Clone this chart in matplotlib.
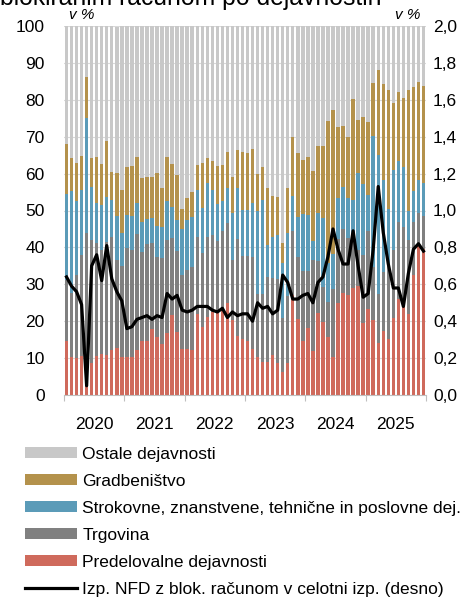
import numpy as np
import matplotlib.pyplot as plt
from matplotlib.patches import Patch
from matplotlib.lines import Line2D
from matplotlib.ticker import FuncFormatter

plt.rcParams['font.family'] = ['Liberation Sans', 'DejaVu Sans']

# monthly data, Jan 2020 - Dec 2025 (shares in %)
predelovalne = [14.5, 10.4, 9.9, 10.6, 10.8, 8.6, 10.6, 11.0, 10.8, 12.2, 12.8, 10.4,
                10.4, 10.4, 12.2, 14.5, 14.7, 17.8, 15.6, 13.8, 16.7, 21.7, 17.2, 12.4,
                12.6, 12.2, 21.9, 18.5, 21.2, 22.6, 22.1, 23.0, 25.0, 20.3, 16.0, 15.1,
                14.7, 12.6, 10.2, 9.0, 9.0, 10.8, 8.8, 6.3, 8.6, 27.1, 20.5, 14.7,
                18.1, 12.0, 22.3, 19.9, 15.8, 10.4, 24.8, 27.7, 27.1, 28.9, 29.5, 19.4,
                23.2, 20.3, 14.2, 17.4, 15.2, 21.0, 25.9, 24.4, 22.0, 32.5, 40.4, 39.7]
trgovina = [16.7, 17.2, 22.6, 27.4, 33.0, 33.4, 30.7, 28.3, 30.7, 30.7, 23.9, 24.6,
            29.4, 28.9, 31.3, 24.2, 26.2, 23.3, 21.7, 23.2, 25.3, 20.8, 21.7, 20.1,
            21.2, 22.4, 20.9, 19.9, 21.5, 20.8, 19.7, 21.4, 21.5, 16.4, 26.3, 22.7,
            23.0, 24.8, 17.3, 18.3, 23.0, 20.8, 22.6, 14.5, 18.1, 17.4, 16.8, 19.0,
            15.6, 24.6, 14.1, 9.5, 9.5, 18.2, 17.6, 17.2, 15.4, 14.5, 9.8, 18.5,
            21.3, 14.5, 13.2, 16.0, 20.1, 18.2, 20.9, 21.0, 20.1, 14.5, 8.9, 8.8]
strokovne = [23.3, 27.8, 20.1, 17.6, 31.2, 14.3, 10.8, 12.2, 12.2, 9.9, 11.7, 9.0,
             9.0, 9.3, 8.4, 8.1, 6.7, 7.0, 8.6, 8.4, 10.7, 8.4, 8.6, 12.4,
             13.6, 13.7, 12.8, 12.2, 14.8, 12.2, 9.9, 8.1, 9.5, 12.6, 13.7, 12.4,
             12.4, 14.5, 22.4, 25.5, 8.6, 11.3, 12.0, 14.9, 17.2, 9.4, 11.0, 15.3,
             15.1, 5.2, 13.0, 18.5, 10.4, 9.6, 11.1, 11.6, 10.8, 9.5, 20.8, 19.2,
             9.7, 35.4, 37.7, 25.0, 15.1, 21.9, 16.7, 16.3, 7.7, 8.4, 8.9, 9.0]
gradbenistvo = [13.6, 8.8, 10.3, 9.2, 11.3, 7.9, 12.5, 11.1, 15.2, 7.7, 11.7, 11.6,
                13.1, 13.5, 12.6, 11.9, 11.6, 11.1, 14.2, 10.7, 11.7, 11.7, 12.2, 5.4,
                6.1, 6.8, 6.8, 12.4, 6.6, 7.9, 10.3, 9.8, 9.8, 9.9, 10.4, 15.6,
                15.6, 14.9, 10.1, 9.0, 15.4, 11.0, 10.2, 5.6, 12.2, 16.1, 17.2, 14.7,
                15.8, 19.0, 18.1, 19.6, 38.6, 39.0, 19.0, 16.4, 16.7, 27.4, 14.3, 18.2,
                19.9, 14.3, 23.0, 25.8, 32.2, 18.1, 18.7, 18.7, 32.8, 28.2, 26.6, 26.2]
ostale = [32.0, 35.9, 37.0, 35.2, 13.7, 35.9, 35.4, 37.4, 31.1, 39.5, 39.7, 44.4,
          38.1, 37.9, 35.4, 41.3, 40.8, 40.8, 39.9, 43.8, 35.6, 37.4, 40.4, 49.7,
          46.4, 44.9, 37.7, 37.0, 35.9, 36.5, 37.9, 37.7, 34.2, 40.7, 33.6, 34.2,
          34.2, 33.2, 39.9, 38.1, 44.0, 46.1, 46.4, 58.7, 44.0, 30.0, 34.5, 36.3,
          35.4, 39.2, 32.5, 32.5, 25.7, 22.8, 27.5, 27.1, 30.0, 19.8, 25.7, 24.6,
          25.9, 15.5, 11.9, 15.7, 17.5, 20.8, 17.8, 19.6, 17.5, 16.4, 15.4, 16.3]
# share of NFC with blocked account in all companies (right axis, %)
blokirani = [0.64, 0.59, 0.56, 0.49, 0.05, 0.70, 0.76, 0.62, 0.81, 0.63, 0.56, 0.51,
             0.36, 0.37, 0.41, 0.42, 0.43, 0.41, 0.43, 0.42, 0.55, 0.52, 0.54, 0.46,
             0.45, 0.46, 0.48, 0.48, 0.48, 0.46, 0.45, 0.47, 0.42, 0.45, 0.43, 0.44,
             0.44, 0.40, 0.50, 0.47, 0.48, 0.44, 0.46, 0.65, 0.61, 0.52, 0.52, 0.54,
             0.55, 0.50, 0.61, 0.64, 0.75, 0.90, 0.79, 0.71, 0.71, 0.89, 0.70, 0.53,
             0.55, 0.79, 1.13, 0.88, 0.71, 0.58, 0.58, 0.48, 0.66, 0.79, 0.82, 0.78]
leta = ['2020', '2021', '2022', '2023', '2024', '2025']

serije = [
    ('Predelovalne dejavnosti', predelovalne, '#cf6a5c'),
    ('Trgovina', trgovina, '#808080'),
    ('Strokovne, znanstvene, tehnične in poslovne dej.', strokovne, '#5b9bb8'),
    ('Gradbeništvo', gradbenistvo, '#b4924c'),
    ('Ostale dejavnosti', ostale, '#c8c8c8'),
]

fig = plt.figure(figsize=(4.71, 5.99), dpi=100)
ax = fig.add_axes([64 / 471, 204 / 599, 362 / 471, 369 / 599])

x = np.arange(len(predelovalne))
spodaj = np.zeros(len(x))
handles = {}
for ime, vals, barva in serije:
    ax.bar(x, vals, bottom=spodaj, width=0.68, color=barva, linewidth=0, zorder=2)
    spodaj += np.array(vals)
    handles[ime] = Patch(facecolor=barva, edgecolor='none')

ax.set_xlim(-0.5, len(x) - 0.5)
ax.set_ylim(0, 100)
ax.set_yticks(range(0, 101, 10))
ax.grid(axis='y', color='#d9d9d9', linewidth=0.8, zorder=0)
ax.set_axisbelow(True)
for s in ['top', 'left', 'right']:
    ax.spines[s].set_visible(False)
ax.spines['bottom'].set_color('#bfbfbf')
ax.tick_params(axis='y', length=0, pad=14, labelsize=12.5)

# year boundaries as ticks, year names in the middle
ax.set_xticks(np.arange(-0.5, len(x), 12))
ax.set_xticklabels([])
ax.set_xticks(np.arange(5.5, len(x), 12), minor=True)
ax.set_xticklabels(leta, minor=True)
ax.tick_params(axis='x', which='major', length=4, color='#bfbfbf')
ax.tick_params(axis='x', which='minor', length=0, pad=16, labelsize=12.5)

ax2 = ax.twinx()
ax2.plot(x, blokirani, color='black', linewidth=2.3, zorder=5)
ax2.set_ylim(0, 2.0)
ax2.set_yticks(np.arange(0, 2.01, 0.2))
ax2.yaxis.set_major_formatter(FuncFormatter(lambda v, p: f'{v:.1f}'.replace('.', ',')))
ax2.tick_params(axis='y', length=0, pad=5, labelsize=12.5)
for s in ['top', 'left', 'right', 'bottom']:
    ax2.spines[s].set_visible(False)

ax.text(0.015, 1.01, 'v %', transform=ax.transAxes, fontsize=11, style='italic', va='bottom')
ax2.text(0.985, 1.01, 'v %', transform=ax.transAxes, fontsize=11, style='italic',
         va='bottom', ha='right')

# cut-off title at the top edge
fig.text(0.0, 1 - 5.5 / 599, 'blokiranim računom po dejavnostih', fontsize=17.8, va='baseline')

vrstni_red = ['Ostale dejavnosti', 'Gradbeništvo',
              'Strokovne, znanstvene, tehnične in poslovne dej.', 'Trgovina',
              'Predelovalne dejavnosti']
h = [handles[k] for k in vrstni_red] + [Line2D([], [], color='black', linewidth=2.3)]
lab = vrstni_red + ['Izp. NFD z blok. računom v celotni izp. (desno)']
fig.legend(h, lab, loc='upper left', bbox_to_anchor=(25 / 471, 1 - 447 / 599),
           frameon=False, fontsize=12.5, handlelength=3.0, handleheight=0.6,
           handletextpad=0.3, labelspacing=0.69, borderpad=0, borderaxespad=0)

fig.savefig('out.png', dpi=100)
